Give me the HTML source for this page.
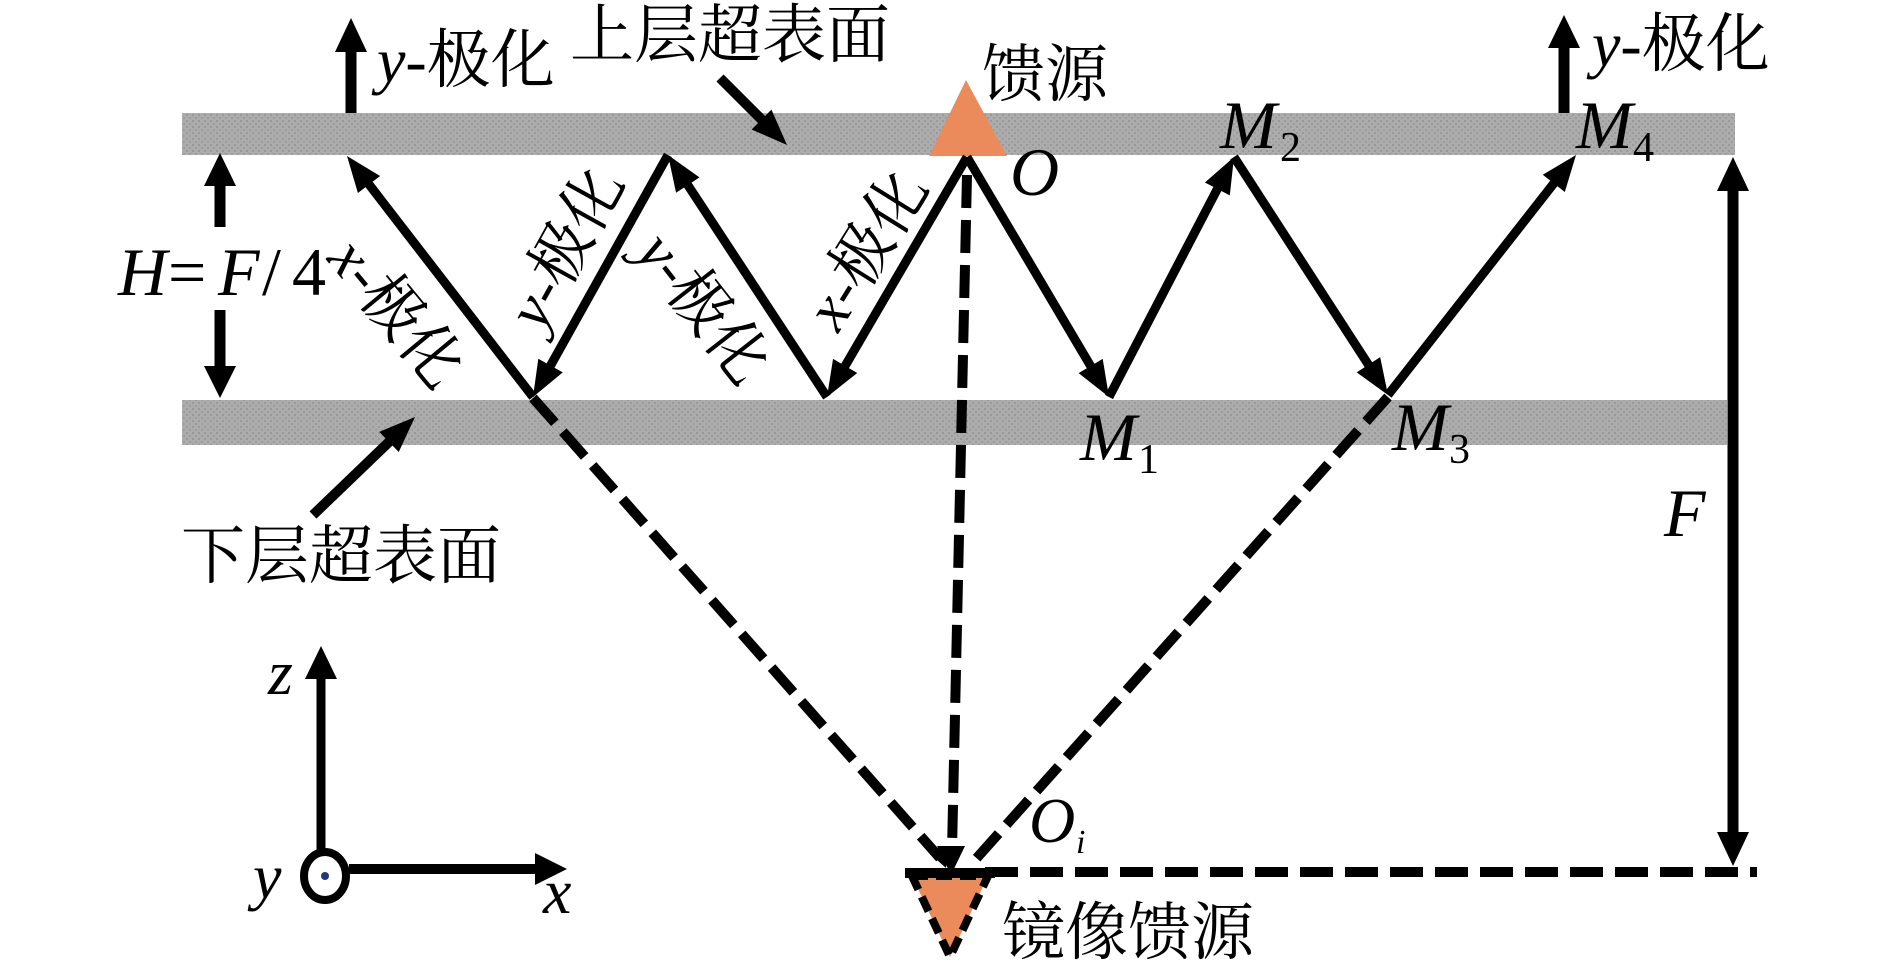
<!DOCTYPE html>
<html><head><meta charset="utf-8"><style>
html,body{margin:0;padding:0;background:#fff;}
svg{display:block;}
text{font-family:"Liberation Serif","Noto Serif CJK SC",serif;fill:#000;}
.cjk{font-family:"Liberation Serif","Noto Serif CJK SC",serif;}
.it{font-style:italic;}
</style></head><body>
<svg width="1890" height="969" viewBox="0 0 1890 969" xmlns="http://www.w3.org/2000/svg">
<defs>
<pattern id="tex" width="6" height="6" patternUnits="userSpaceOnUse">
<rect width="6" height="6" fill="#acacac"/>
<rect x="0" y="0" width="2" height="2" fill="#999"/>
<rect x="3" y="3" width="2" height="2" fill="#9d9d9d"/>
</pattern>
</defs>

<!-- bands -->
<rect x="182" y="113" width="1553" height="42" fill="url(#tex)"/>
<rect x="182" y="400" width="1545" height="45" fill="url(#tex)"/>

<!-- feed triangle -->
<polygon points="966,80 929,156 1007,156" fill="#EB8A5B"/>

<!-- dashed lines -->
<g stroke="#000" stroke-width="10" fill="none" stroke-dasharray="33 12">
<line x1="533" y1="398" x2="940" y2="858"/>
<line x1="1388" y1="397" x2="975" y2="860"/>
<line x1="967" y1="175" x2="952" y2="850"/>
<line x1="985" y1="872" x2="1757" y2="872"/>
</g>
<polygon points="951,875 937,846 965,846" fill="#000"/>
<polygon points="946,868 928,852 948,846" fill="#000"/>

<!-- mirror triangle -->
<polygon points="912,876 988,876 950,957" fill="#EB8A5B" stroke="#000" stroke-width="8" stroke-dasharray="16 8"/>
<line x1="905" y1="873" x2="995" y2="873" stroke="#000" stroke-width="10"/>

<!-- solid zigzag lines -->
<g stroke="#000" stroke-width="9" fill="none" stroke-linecap="butt">
<line x1="967" y1="157" x2="843.1" y2="369.4"/>
<line x1="827" y1="397" x2="685.6" y2="181.7"/>
<line x1="668" y1="155" x2="548.6" y2="369.1"/>
<line x1="533" y1="397" x2="366.6" y2="181.3"/>
<line x1="967" y1="157" x2="1092.7" y2="369.5"/>
<line x1="1109" y1="397" x2="1219.2" y2="185.4"/>
<line x1="1234" y1="157" x2="1370.6" y2="368.1"/>
<line x1="1388" y1="395" x2="1556.3" y2="180.2"/>
</g>
<g fill="#000">
<polygon points="827,397 833.05,358.85 857.23,372.95"/>
<polygon points="668,155 699.47,177.40 676.07,192.78"/>
<polygon points="533,397 538.31,358.74 562.77,372.38"/>
<polygon points="347,156 380.08,175.95 357.92,193.05"/>
<polygon points="1109,397 1078.62,373.14 1102.72,358.88"/>
<polygon points="1234,157 1229.79,195.40 1204.95,182.46"/>
<polygon points="1388,395 1356.69,372.37 1380.19,357.17"/>
<polygon points="1576,155 1564.82,191.97 1542.78,174.71"/>
</g>

<!-- vertical arrows -->
<g stroke="#000" stroke-width="11">
<line x1="351" y1="113" x2="351" y2="48"/>
<line x1="1564" y1="113" x2="1564" y2="45"/>
<line x1="220" y1="183" x2="220" y2="227"/>
<line x1="220" y1="310" x2="220" y2="369"/>
<line x1="1733" y1="188" x2="1733" y2="834"/>
</g>
<g fill="#000">
<polygon points="351,18 335,52 367,52"/>
<polygon points="1564,15 1548,48 1580,48"/>
<polygon points="220,153 204,186 236,186"/>
<polygon points="220,398 204,366 236,366"/>
<polygon points="1733,157 1717,191 1749,191"/>
<polygon points="1733,866 1717,832 1749,832"/>
</g>

<!-- pointer arrows -->
<line x1="720" y1="78" x2="764.4" y2="122.4" stroke="#000" stroke-width="10"/>
<polygon points="787,145 751.64,129.44 771.44,109.64" fill="#000"/>
<line x1="313" y1="515" x2="391.9" y2="439.2" stroke="#000" stroke-width="10"/>
<polygon points="415,417 398.74,452.05 379.34,431.85" fill="#000"/>

<!-- axes -->
<line x1="321" y1="851" x2="321" y2="675" stroke="#000" stroke-width="9"/>
<polygon points="321,646 305,679 337,679" fill="#000"/>
<line x1="349" y1="869" x2="538" y2="869" stroke="#000" stroke-width="10"/>
<polygon points="567,869 535,853 535,885" fill="#000"/>
<ellipse cx="325" cy="876" rx="21" ry="24" fill="#fff" stroke="#000" stroke-width="8"/>
<circle cx="325" cy="876" r="4" fill="#1f3a7a"/>

<!-- labels -->
<text x="570" y="57" font-size="64" class="cjk">上层超表面</text>
<text x="982" y="96" font-size="63" class="cjk">馈源</text>
<text x="377" y="82" font-size="64"><tspan class="it">y</tspan>-极化</text>
<text x="1592" y="66" font-size="64"><tspan class="it">y</tspan>-极化</text>
<text x="181" y="578" font-size="64" class="cjk">下层超表面</text>
<text x="1002" y="954" font-size="63" class="cjk">镜像馈源</text>

<!-- rotated labels -->
<text font-size="62" text-anchor="middle" dominant-baseline="central" transform="translate(396,313) rotate(50.4)"><tspan class="it">x</tspan>-极化</text>
<text font-size="62" text-anchor="middle" dominant-baseline="central" transform="translate(566,248) rotate(-61)"><tspan class="it">y</tspan>-极化</text>
<text font-size="62" text-anchor="middle" dominant-baseline="central" transform="translate(703,308) rotate(52)"><tspan class="it">y</tspan>-极化</text>
<text font-size="62" text-anchor="middle" dominant-baseline="central" transform="translate(867,250) rotate(-58)"><tspan class="it">x</tspan>-极化</text>

<!-- math labels -->
<text font-size="68" y="295"><tspan class="it" x="118">H</tspan><tspan x="168">=</tspan><tspan class="it" x="218">F</tspan><tspan x="262">/</tspan><tspan x="292">4</tspan></text>
<text x="1010" y="195" font-size="68" class="it">O</text>
<text x="1220" y="148" font-size="68" class="it">M</text><text x="1280" y="161" font-size="42">2</text>
<text x="1576" y="148" font-size="68" class="it">M</text><text x="1633" y="161" font-size="42">4</text>
<text x="1080" y="460" font-size="68" class="it">M</text><text x="1138" y="473" font-size="42">1</text>
<text x="1392" y="450" font-size="68" class="it">M</text><text x="1449" y="463" font-size="42">3</text>
<text x="1664" y="536" font-size="68" class="it">F</text>
<text x="1029" y="842" font-size="64" class="it">O</text><text x="1076" y="853" font-size="34" class="it">i</text>
<text x="268" y="694" font-size="64" class="it">z</text>
<text x="253" y="898" font-size="64" class="it">y</text>
<text x="543" y="913" font-size="64" class="it">x</text>
</svg>
</body></html>
